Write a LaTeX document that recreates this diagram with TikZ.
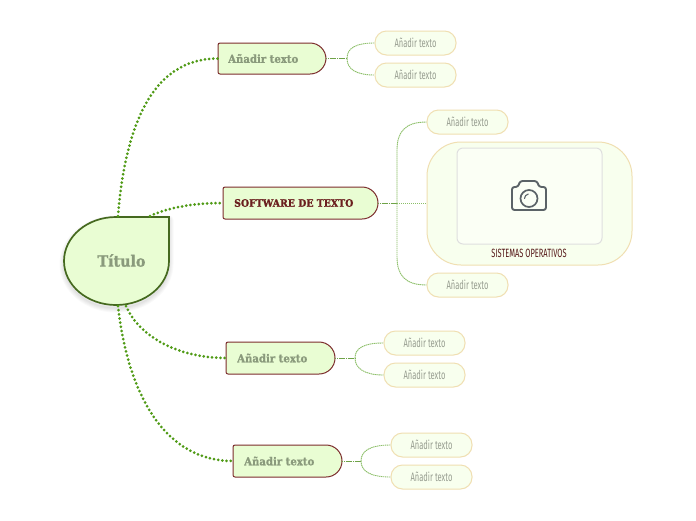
\documentclass[tikz,border=0pt]{standalone}
\usepackage{fontspec}
\setmainfont{Fira Sans}
\newfontfamily\slabfont[FakeStretch=0.92,FakeBold=1.2]{DejaVu Serif}[BoldFont={DejaVu Serif Bold}]
\newfontfamily\narrowfont[FakeStretch=0.62]{Fira Sans}
\usetikzlibrary{calc}
\definecolor{nodefill}{HTML}{E9FDD3}
\definecolor{leaffill}{HTML}{F8FFEE}
\definecolor{leafline}{HTML}{F0DFB2}
\definecolor{titleline}{HTML}{45691F}
\definecolor{branchline}{HTML}{7C2D2D}
\definecolor{mutetext}{HTML}{8A9A7C}
\definecolor{leaftext}{HTML}{979D90}
\definecolor{darkred}{HTML}{6B1F1F}
\definecolor{maingreen}{HTML}{4F9A15}
\definecolor{stemgreen}{HTML}{6FA348}
\definecolor{subgreen}{HTML}{8CBF68}
\definecolor{camgrey}{HTML}{5B6367}
\tikzset{
  x=1pt,y=-1pt,
  titletext/.style={font=\slabfont\bfseries\fontsize{15.5}{18}\selectfont,text=mutetext,inner sep=0pt},
  branchtext/.style={font=\slabfont\bfseries\fontsize{11}{12}\selectfont,text=mutetext,inner sep=0pt,anchor=west},
  softtext/.style={font=\slabfont\bfseries\fontsize{10.2}{12}\selectfont,text=darkred,inner sep=0pt,anchor=west},
  leafnode/.style={draw=leafline,fill=leaffill,line width=1pt,rounded corners=11.5pt,minimum width=81pt,minimum height=24pt,inner sep=0pt,font=\narrowfont\fontsize{12.2}{13}\selectfont,text=leaftext},
  mainlink/.style={draw=maingreen,line width=3pt,line cap=round,dash pattern=on 0pt off 4.2pt},
  stemlink/.style={draw=stemgreen,line width=1pt,dash pattern=on 1.4pt off .4pt},
  sublink/.style={draw=subgreen,line width=.9pt,dash pattern=on 1.4pt off .6pt},
  branchshape/.style={draw=branchline,fill=nodefill,line width=1pt},
}
% #1 left, #2 top, #3 right, #4 bottom
\newcommand{\branchbox}[4]{%
  \path[branchshape] (#1+2,#2) -- (#3-16,#2) arc[start angle=90,end angle=0,x radius=16,y radius=-16]
    -- (#3,#4-16) arc[start angle=0,end angle=-90,x radius=16,y radius=-16]
    -- (#1+2,#4) arc[start angle=270,end angle=180,radius=2,y radius=-2]
    -- (#1,#2+2) arc[start angle=180,end angle=90,radius=2,y radius=-2] -- cycle;}
\begin{document}
\begin{tikzpicture}
\useasboundingbox (0,0) rectangle (696,520);
\fill[white] (0,0) rectangle (696,520);
% title shadow
\foreach \w in {9,7,5,3,1}{
  \draw[black,opacity=.025,line width=\w pt,line join=round,fill=none]
    (116,220) -- (169,220) -- (169,264) arc[start angle=0,end angle=90,x radius=53,y radius=44]
    arc[start angle=90,end angle=180,x radius=52,y radius=44]
    arc[start angle=180,end angle=270,x radius=52,y radius=44] -- cycle;}
% title
\draw[titleline,fill=nodefill,line width=1.7pt,line join=miter]
  (116,217) -- (169,217) -- (169,261) arc[start angle=0,end angle=90,x radius=53,y radius=44]
  arc[start angle=90,end angle=180,x radius=52,y radius=44]
  arc[start angle=180,end angle=270,x radius=52,y radius=44] -- cycle;
\node[titletext] (title) at (121.5,260.5) {Título};
\coordinate (tA) at (118,216);
\coordinate (tB) at (150,216);
\coordinate (tC) at (126,306);
\coordinate (tD) at (118,306);
% branches
\branchbox{218}{43}{326}{74}
\node[branchtext] (b1) at (228,58.5) {Añadir texto};
\branchbox{223}{187}{378}{219}
\node[softtext] (b2) at (234,203) {SOFTWARE DE TEXTO};
\branchbox{226}{342}{335}{374}
\node[branchtext] (b3) at (237,358) {Añadir texto};
\branchbox{233}{445}{342}{477}
\node[branchtext] (b4) at (244,461) {Añadir texto};
\coordinate (b1L) at (218,58.5); \coordinate (b1R) at (326,58.5); \coordinate (j1) at (347,58.5);
\coordinate (b2L) at (223,203); \coordinate (b2R) at (378,203.5); \coordinate (j2) at (397,203.5);
\coordinate (b3L) at (226,358); \coordinate (b3R) at (335,358); \coordinate (j3) at (355,358);
\coordinate (b4L) at (233,461); \coordinate (b4R) at (342,461); \coordinate (j4) at (361,461);
% leaves
\node[leafnode] (l11) at (415.5,43) {Añadir texto};
\node[leafnode] (l12) at (415.5,75) {Añadir texto};
\node[leafnode] (l21) at (467.5,122) {Añadir texto};
\node[leafnode] (l22) at (467.5,285) {Añadir texto};
\node[leafnode] (l31) at (424.5,343) {Añadir texto};
\node[leafnode] (l32) at (424.5,375) {Añadir texto};
\node[leafnode] (l41) at (431.5,445) {Añadir texto};
\node[leafnode] (l42) at (431.5,477) {Añadir texto};
% image card
\node[draw=leafline,fill=leaffill,line width=1pt,rounded corners=34pt,minimum width=205pt,minimum height=123pt,inner sep=0pt] (card) at (529.5,203.5) {};
\node[draw=gray!25,fill=leaffill!60!white,line width=1pt,rounded corners=6pt,minimum width=145pt,minimum height=96pt,inner sep=0pt] (photo) at (529.5,196) {};
\node[font=\narrowfont\fontsize{12}{13}\selectfont,text=darkred!80!black,inner sep=0pt] (caption) at (529,253) {SISTEMAS OPERATIVOS};
% camera
\draw[camgrey,line width=1.9pt,line join=round,rounded corners=2.5pt]
  (512,187) -- (518,187) -- (520,181) -- (537,181) -- (539,187) -- (546,187) -- (546,210) -- (512,210) -- cycle;
\draw[camgrey,line width=1.7pt] (529,198.5) circle[radius=8.5];
\draw[camgrey,line width=1.1pt,line cap=round] (524.5,198.5) arc[start angle=180,end angle=100,x radius=4.5,y radius=-4.5];
% main connectors
\draw[mainlink] (tA) .. controls (125,130) and (150,58.5) .. (b1L);
\draw[mainlink] (tB) .. controls (170,207) and (195,203) .. (b2L);
\draw[mainlink] (tC) .. controls (140,338) and (180,358) .. (b3L);
\draw[mainlink] (tD) .. controls (128,395) and (165,461) .. (b4L);
% sub connectors
\draw[sublink] (j2) -- (card.west);
\draw[stemlink] (b1R) -- (j1);
\draw[sublink] (j1) .. controls (347,48) and (356,43) .. (l11.west);
\draw[sublink] (j1) .. controls (347,69) and (356,75) .. (l12.west);
\draw[stemlink] (b2R) -- (j2);
\draw[sublink] (j2) -- (397,150) .. controls (397,132) and (405,122) .. (l21.west);
\draw[sublink] (j2) -- (397,257) .. controls (397,275) and (405,285) .. (l22.west);
\draw[stemlink] (b3R) -- (j3);
\draw[sublink] (j3) .. controls (355,348) and (364,343) .. (l31.west);
\draw[sublink] (j3) .. controls (355,368) and (364,375) .. (l32.west);
\draw[stemlink] (b4R) -- (j4);
\draw[sublink] (j4) .. controls (361,451) and (370,445) .. (l41.west);
\draw[sublink] (j4) .. controls (361,471) and (370,477) .. (l42.west);
\end{tikzpicture}
\end{document}
